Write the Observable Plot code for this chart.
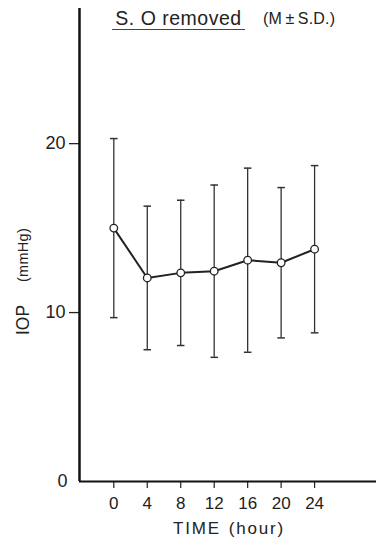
<!DOCTYPE html>
<html>
<head>
<meta charset="utf-8">
<script src="https://cdn.jsdelivr.net/npm/d3@7"></script>
<script src="https://cdn.jsdelivr.net/npm/@observablehq/plot@0.6"></script>
<style>
  html, body { margin: 0; padding: 0; background: #fff; }
  #wrap { position: relative; width: 376px; height: 542px; font-family: "Liberation Sans", Arial, sans-serif; color: #222; }
  #title { position: absolute; left: 112px; top: 8px; width: 133px; text-align: center; font-size: 19.5px; letter-spacing: 0.5px; border-bottom: 1.5px solid #444; padding-bottom: 1px; line-height: 20px; }
  #note { position: absolute; left: 263px; top: 10px; font-size: 16px; letter-spacing: 0.2px; line-height: 18px; }
  .rot { position: absolute; transform: translate(-50%, -50%) rotate(-90deg); white-space: nowrap; line-height: 20px; }
  #ylab1 { left: 23px; top: 320px; font-size: 17.5px; }
  #ylab2 { left: 23px; top: 255px; font-size: 14.5px; letter-spacing: 0.3px; }
  #xlab { position: absolute; left: 229px; top: 519px; transform: translateX(-50%); white-space: nowrap; font-size: 17px; letter-spacing: 1.8px; line-height: 20px; }
  #xlab span { margin-left: 8px; }
</style>
</head>
<body>
<div id="wrap">
  <div id="chart"></div>
  <div id="title">S. O removed</div>
  <div id="note">(M&thinsp;±&thinsp;S.D.)</div>
  <div id="ylab1" class="rot">IOP</div>
  <div id="ylab2" class="rot">(mmHg)</div>
  <div id="xlab">TIME<span>(hour)</span></div>
</div>
<script>
const hours = [0, 4, 8, 12, 16, 20, 24];
const meanIOP = [15.0, 12.05, 12.35, 12.45, 13.1, 12.95, 13.75];
const sdIOP = [5.3, 4.25, 4.3, 5.1, 5.45, 4.45, 4.95];
const yTickValues = [10, 20];
const xDomain = [-4.1, 31.4];
const yDomain = [0, 28];

const data = hours.map((t, i) => ({
  t,
  m: meanIOP[i],
  lo: meanIOP[i] - sdIOP[i],
  hi: meanIOP[i] + sdIOP[i]
}));
const capHalf = 0.45;

const chart = Plot.plot({
  width: 376,
  height: 542,
  marginLeft: 79,
  marginRight: 0,
  marginTop: 8,
  marginBottom: 61,
  x: { domain: xDomain },
  y: { domain: yDomain },
  style: { fontFamily: "Liberation Sans, Arial, sans-serif", fontSize: "16px", color: "#222", background: "white" },
  marks: [
    Plot.ruleX(data, { x: "t", y1: "lo", y2: "hi", stroke: "#333", strokeWidth: 1.3 }),
    Plot.link(data, { x1: d => d.t - capHalf, x2: d => d.t + capHalf, y1: "hi", y2: "hi", stroke: "#333", strokeWidth: 1.5 }),
    Plot.link(data, { x1: d => d.t - capHalf, x2: d => d.t + capHalf, y1: "lo", y2: "lo", stroke: "#333", strokeWidth: 1.5 }),
    Plot.line(data, { x: "t", y: "m", stroke: "#222", strokeWidth: 2 }),
    Plot.dot(data, { x: "t", y: "m", r: 3.8, fill: "white", stroke: "#222", strokeWidth: 1.3 }),
    Plot.axisY({ ticks: yTickValues, tickSize: 10, tickPadding: 4, label: null, fontSize: 18, strokeWidth: 1.3 }),
    Plot.axisY({ ticks: [0], tickSize: 0, tickPadding: 12, label: null, fontSize: 18 }),
    Plot.axisX({ ticks: hours, tickSize: 7, tickPadding: 8, label: null, fontSize: 17, strokeWidth: 1.2 }),
    Plot.ruleX([xDomain[0]], { stroke: "#111", strokeWidth: 2.5 }),
    Plot.ruleY([0], { stroke: "#111", strokeWidth: 2.2 })
  ]
});
document.getElementById("chart").appendChild(chart);
</script>
</body>
</html>
